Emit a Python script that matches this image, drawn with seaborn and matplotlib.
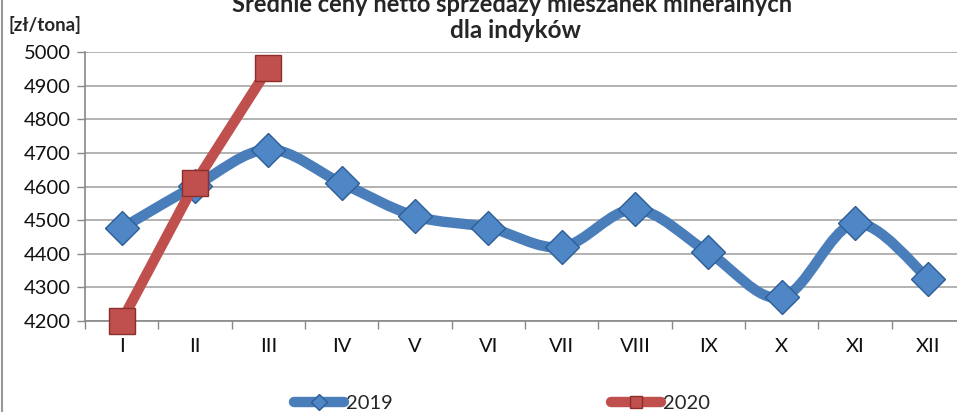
import numpy as np
import pandas as pd
import seaborn as sns
import matplotlib.pyplot as plt
from matplotlib.path import Path
from matplotlib.patches import PathPatch
from matplotlib.lines import Line2D

months = ["I", "II", "III", "IV", "V", "VI", "VII", "VIII", "IX", "X", "XI", "XII"]
prices_2019 = [4476, 4602, 4710, 4610, 4512, 4478, 4420, 4532, 4404, 4270, 4490, 4326]
prices_2020 = [4200, 4610, 4952]

BLUE = "#4a7ebb"
RED = "#c0504d"


def smooth_path(xs, ys):
    """Excel-style smoothed line: bezier segments with Catmull-Rom control points."""
    pts = np.column_stack([xs, ys]).astype(float)
    verts = [pts[0]]
    codes = [Path.MOVETO]
    n = len(pts)
    for i in range(n - 1):
        p0 = pts[max(i - 1, 0)]
        p1 = pts[i]
        p2 = pts[i + 1]
        p3 = pts[min(i + 2, n - 1)]
        verts += [p1 + (p2 - p0) / 6, p2 - (p3 - p1) / 6, p2]
        codes += [Path.CURVE4] * 3
    return Path(verts, codes)


sns.set_style("white")
plt.rcParams["font.family"] = ["Lato", "DejaVu Sans"]

df_19 = pd.DataFrame({"x": np.arange(len(prices_2019)), "price": prices_2019})
df_20 = pd.DataFrame({"x": np.arange(len(prices_2020)), "price": prices_2020})

fig = plt.figure(figsize=(9.57, 4.12), dpi=100)
ax = fig.add_axes([85 / 957, 1 - 321 / 412, 880 / 957, 269 / 412])

ax.set_ylim(4200, 5000)
ax.set_xlim(-0.5, 11.5)
ax.set_yticks(range(4200, 5001, 100))
ax.grid(axis="y", color="#a6a6a6", linewidth=1.2)
ax.grid(axis="x", visible=False)

# 2019 - smoothed line
patch = PathPatch(smooth_path(df_19["x"], df_19["price"]), fill=False,
                  edgecolor=BLUE, linewidth=7.5, capstyle="round",
                  joinstyle="round", zorder=3)
ax.add_patch(patch)
sns.lineplot(data=df_19, x="x", y="price", ax=ax, linestyle="", marker="D",
             markersize=17, color="#4f86c6", markeredgecolor="#2e5e96",
             markeredgewidth=1, zorder=4, clip_on=False)

# 2020
sns.lineplot(data=df_20, x="x", y="price", ax=ax, color=RED, linewidth=7.5,
             marker="s", markersize=19, markeredgecolor="#8c2f2c",
             markeredgewidth=1, zorder=5, clip_on=False,
             solid_capstyle="round")

ax.set_xticks(np.arange(len(months)))
ax.set_xticklabels(months)
ax.set_xticks(np.arange(len(months) + 1) - 0.5, minor=True)
ax.tick_params(axis="x", which="major", length=0, labelsize=14.5, pad=12,
               colors="#111111")
ax.tick_params(axis="x", which="minor", length=6, width=1, color="#888888",
               direction="out", bottom=True)
ax.tick_params(axis="y", length=6, width=1, color="#888888", labelsize=14.5,
               pad=4, left=True, colors="#111111")
ax.set_xlabel("")
ax.set_ylabel("")

for side in ["top", "right"]:
    ax.spines[side].set_visible(False)
for side in ["left", "bottom"]:
    ax.spines[side].set_color("#888888")
    ax.spines[side].set_linewidth(1.2)

# titles and unit label
fig.text(512 / 957, 1 - 2 / 412, "Średnie ceny netto sprzedaży mieszanek mineralnych",
         ha="center", va="center", fontsize=17, fontweight="bold")
fig.text(515 / 957, 1 - 30 / 412, "dla indyków", ha="center", va="center",
         fontsize=17.5, fontweight="bold")
fig.text(8 / 957, 1 - 25 / 412, "[zł/tona]", ha="left", va="center",
         fontsize=13.5, fontweight="bold")

# chart border on the left
fig.add_artist(Line2D([2 / 957, 2 / 957], [0, 1], color="#999999",
                      linewidth=1.5, transform=fig.transFigure))

handles = [
    Line2D([], [], color=BLUE, linewidth=7.5, marker="D", markersize=8,
           markerfacecolor="#4f86c6", markeredgecolor="#2e5e96",
           solid_capstyle="round"),
    Line2D([], [], color=RED, linewidth=7.5, marker="s", markersize=8,
           markeredgecolor="#8c2f2c", solid_capstyle="round"),
]
fig.legend(handles, ["2019", "2020"], loc="center", ncol=2,
           bbox_to_anchor=(502 / 957, 1 - 403 / 412), frameon=False,
           fontsize=14.5, handlelength=2.5, handletextpad=0.1,
           columnspacing=10.8)

fig.savefig("out.png", dpi=100)
